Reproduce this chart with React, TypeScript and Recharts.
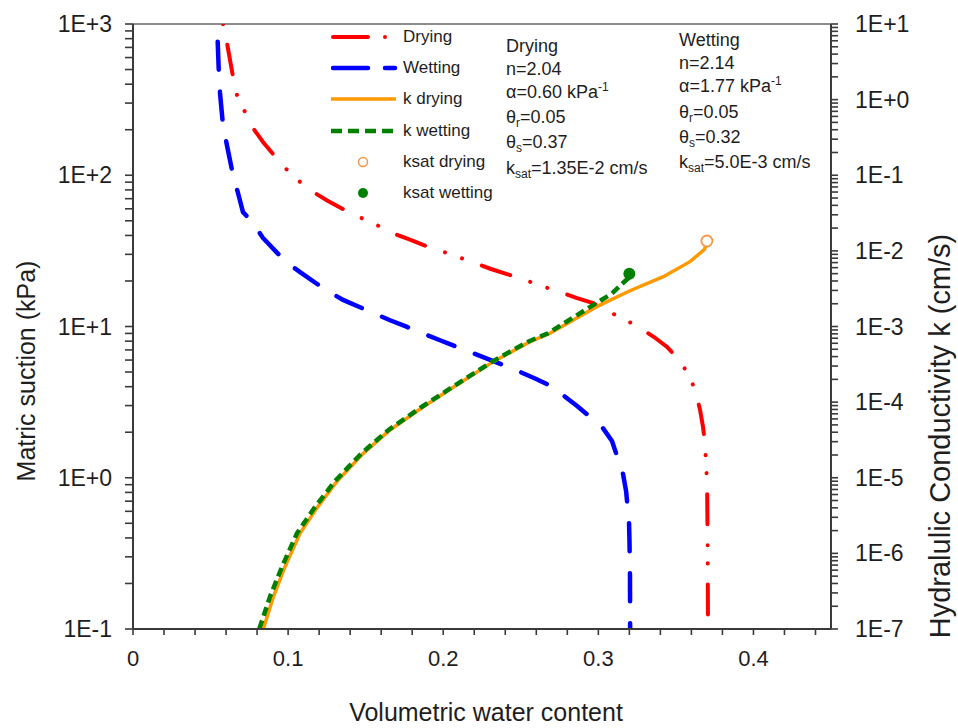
import { ComposedChart, Line, Scatter, XAxis, YAxis, ReferenceLine } from 'recharts';

// water retention curves: volumetric water content vs matric suction (kPa)
const dryTheta = [0.058, 0.0606, 0.0645, 0.0668, 0.0722, 0.0774, 0.0838, 0.0903, 0.098, 0.107, 0.1161, 0.1257, 0.1354, 0.1457, 0.156, 0.167, 0.1773, 0.187, 0.1986, 0.2095, 0.2205, 0.2308, 0.2411, 0.2527, 0.2637, 0.2753, 0.2863, 0.2966, 0.3056, 0.3166, 0.3269, 0.3359, 0.3443, 0.3527, 0.3591, 0.363, 0.3656, 0.3675, 0.3688, 0.3694, 0.3701, 0.3703, 0.3705, 0.3707];
const dryPsi = [1000, 749, 446, 344, 262, 205, 166, 138, 112, 91.6, 77.5, 67.6, 59.8, 53.0, 47.6, 41.5, 37.9, 34.6, 31.6, 28.8, 26.3, 24.0, 22.2, 20.3, 18.5, 16.9, 15.4, 14.3, 12.7, 11.2, 9.77, 8.52, 7.32, 5.91, 4.63, 3.63, 2.8, 2.16, 1.67, 1.25, 0.937, 0.567, 0.323, 0.1];

const wetTheta = [0.0546, 0.0554, 0.0561, 0.058, 0.0604, 0.0645, 0.0677, 0.0709, 0.0774, 0.0838, 0.0986, 0.1077, 0.1244, 0.1354, 0.1547, 0.1657, 0.1767, 0.1967, 0.2173, 0.2282, 0.2482, 0.2592, 0.2721, 0.2772, 0.2863, 0.3024, 0.3088, 0.3159, 0.3179, 0.3198, 0.3201, 0.3204, 0.3205];
const wetPsi = [764, 460, 350, 215, 161, 100, 76.3, 57.1, 48.3, 38.5, 26.7, 22.9, 17.4, 15.0, 12.3, 11.0, 9.93, 8.2, 6.78, 6.14, 5.08, 4.53, 3.92, 3.52, 2.98, 2.17, 1.75, 1.06, 0.817, 0.502, 0.376, 0.228, 0.1];

// hydraulic conductivity (cm/s)
const kDryTheta = [0.084, 0.0905, 0.098, 0.1077, 0.1184, 0.1313, 0.1485, 0.1657, 0.1872, 0.2087, 0.2323, 0.256, 0.2689, 0.299, 0.3204, 0.3419, 0.3591, 0.3685, 0.37];
const kDry = [1.0e-7, 2.67e-7, 6.67e-7, 1.84e-6, 3.94e-6, 8.87e-6, 2.1e-5, 4.28e-5, 8.69e-5, 1.68e-4, 3.43e-4, 6.3e-4, 8.13e-4, 1.83e-3, 2.97e-3, 4.56e-3, 7.2e-3, 1.05e-2, 1.32e-2];

const kWetTheta = [0.0814, 0.0883, 0.0961, 0.1057, 0.1167, 0.1299, 0.1473, 0.1647, 0.1863, 0.2079, 0.2315, 0.2547, 0.2676, 0.2966, 0.3088, 0.3161, 0.3193, 0.32];
const kWet = [1.0e-7, 2.67e-7, 6.67e-7, 1.84e-6, 3.94e-6, 8.87e-6, 2.1e-5, 4.28e-5, 8.69e-5, 1.68e-4, 3.43e-4, 6.3e-4, 8.13e-4, 1.92e-3, 2.73e-3, 3.79e-3, 4.34e-3, 5.0e-3];

const ksatDry = [{ x: 0.37, y: 0.0135 }];
const ksatWet = [{ x: 0.32, y: 0.005 }];

// axes
const xMajor = [0, 0.1, 0.2, 0.3, 0.4];
const xLabels = ['0', '0.1', '0.2', '0.3', '0.4'];
const xMinor = [0.02, 0.04, 0.06, 0.08, 0.12, 0.14, 0.16, 0.18, 0.22, 0.24, 0.26, 0.28, 0.32, 0.34, 0.36, 0.38, 0.42, 0.44];
const leftMajor = [0.1, 1, 10, 100, 1000];
const leftLabels = ['1E-1', '1E+0', '1E+1', '1E+2', '1E+3'];
const rightMajor = [1e-7, 1e-6, 1e-5, 1e-4, 1e-3, 1e-2, 1e-1, 1, 10];
const rightLabels = ['1E-7', '1E-6', '1E-5', '1E-4', '1E-3', '1E-2', '1E-1', '1E+0', '1E+1'];
const mult = [2, 3, 4, 5, 6, 7, 8, 9];

const FONT = '"Liberation Sans", Arial, sans-serif';
const AXIS = '#3a3a3a';
const TXT = '#1e1e1e';
const RED = '#FF0000';
const BLUE = '#0000FF';
const ORANGE = '#FF9900';
const GREEN = '#008000';

const pts = (xs: number[], ys: number[]) => xs.map((x, i) => ({ x, y: ys[i] }));
const minors = (majors: number[]) =>
  majors.slice(0, -1).flatMap((m) => mult.map((k) => +(m * k).toPrecision(3)));

// recharts draws the tick lines; these only place labels on the major ticks
const XTick = (p: any) => {
  const { x, y, payload } = p;
  const i = xMajor.indexOf(payload.value);
  if (i < 0) return <g />;
  return <text x={x} y={y + 31} textAnchor="middle" fontSize={22} fontFamily={FONT} fill={TXT}>{xLabels[i]}</text>;
};

const LeftTick = (p: any) => {
  const { x, y, payload } = p;
  const i = leftMajor.indexOf(payload.value);
  if (i < 0) return <g />;
  return <text x={x - 13} y={y + 8} textAnchor="end" fontSize={23} fontFamily={FONT} fill={TXT}>{leftLabels[i]}</text>;
};

const RightTick = (p: any) => {
  const { x, y, payload } = p;
  const i = rightMajor.indexOf(payload.value);
  if (i < 0) return <g />;
  return <text x={x + 17} y={y + 8} textAnchor="start" fontSize={23} fontFamily={FONT} fill={TXT}>{rightLabels[i]}</text>;
};

const legendRows = [
  { name: 'Drying', kind: 'dry' },
  { name: 'Wetting', kind: 'wet' },
  { name: 'k drying', kind: 'kdry' },
  { name: 'k wetting', kind: 'kwet' },
  { name: 'ksat drying', kind: 'open' },
  { name: 'ksat wetting', kind: 'dot' },
];

function Swatch({ kind }: { kind: string }) {
  return (
    <svg width={70} height={14} style={{ display: 'block' }}>
      {kind === 'dry' && (<>
        <line x1={2} x2={37} y1={7} y2={7} stroke={RED} strokeWidth={4} strokeLinecap="round" />
        <circle cx={54} cy={7} r={2} fill={RED} />
      </>)}
      {kind === 'wet' && (<>
        <line x1={2} x2={37} y1={7} y2={7} stroke={BLUE} strokeWidth={4.5} strokeLinecap="round" />
        <line x1={54} x2={64} y1={7} y2={7} stroke={BLUE} strokeWidth={4.5} strokeLinecap="round" />
      </>)}
      {kind === 'kdry' && <line x1={0} x2={65} y1={7} y2={7} stroke={ORANGE} strokeWidth={3.5} />}
      {kind === 'kwet' && <line x1={0} x2={65} y1={7} y2={7} stroke={GREEN} strokeWidth={4.5} strokeDasharray="11 6" />}
      {kind === 'open' && <circle cx={32} cy={7} r={4.5} fill="#fff" stroke="#F79646" strokeWidth={1.5} />}
      {kind === 'dot' && <circle cx={32} cy={7} r={5} fill={GREEN} />}
    </svg>
  );
}

const sub = { fontSize: 12, position: 'relative' as const, top: 4 };
const sup = { fontSize: 12, position: 'relative' as const, top: -7 };

export default function App() {
  const xTicks = [...xMajor, ...xMinor].sort((a, b) => a - b);
  const leftTicks = [...leftMajor, ...minors(leftMajor)];
  const rightTicks = [...rightMajor, ...minors(rightMajor)];
  const tickStyle = { stroke: AXIS, strokeWidth: 1.6 };

  return (
    <div style={{ position: 'absolute', left: 0, top: 0, width: 958, height: 728, background: '#fff', fontFamily: FONT, color: TXT }}>
      <ComposedChart width={958} height={728} margin={{ top: 24, right: 0, bottom: 0, left: 0 }}>
        <XAxis type="number" dataKey="x" domain={[0, 0.45]} allowDataOverflow ticks={xTicks} interval={0}
          height={99} tickSize={6} tickMargin={0} tickLine={tickStyle} tick={<XTick />}
          axisLine={{ stroke: AXIS, strokeWidth: 2 }} />
        <YAxis yAxisId="left" type="number" scale="log" domain={[0.1, 1000]} allowDataOverflow ticks={leftTicks}
          interval={0} width={133} tickSize={8} tickMargin={0} tickLine={tickStyle} tick={<LeftTick />}
          axisLine={{ stroke: AXIS, strokeWidth: 2 }} />
        <YAxis yAxisId="right" orientation="right" type="number" scale="log" domain={[1e-7, 10]} allowDataOverflow
          ticks={rightTicks} interval={0} width={127} tickSize={7} tickMargin={0} tickLine={tickStyle} tick={<RightTick />}
          axisLine={{ stroke: AXIS, strokeWidth: 2 }} />
        <ReferenceLine yAxisId="left" y={1000} stroke="#8C8C8C" strokeWidth={2} />

        <Line yAxisId="left" data={pts(dryTheta, dryPsi)} dataKey="y" type="linear" stroke={RED} strokeWidth={4}
          strokeLinecap="round" strokeDasharray="0.1 21 30 21 0.1 18" dot={false} activeDot={false} isAnimationActive={false} />
        <Line yAxisId="left" data={pts(wetTheta, wetPsi)} dataKey="y" type="linear" stroke={BLUE} strokeWidth={4.5}
          strokeLinecap="round" strokeDasharray="28 22" dot={false} activeDot={false} isAnimationActive={false} />
        <Line yAxisId="right" data={pts(kDryTheta, kDry)} dataKey="y" type="linear" stroke={ORANGE} strokeWidth={3.5}
          dot={false} activeDot={false} isAnimationActive={false} />
        <Line yAxisId="right" data={pts(kWetTheta, kWet)} dataKey="y" type="linear" stroke={GREEN} strokeWidth={4.5}
          strokeDasharray="9 5" dot={false} activeDot={false} isAnimationActive={false} />
        <Scatter yAxisId="right" data={ksatDry} dataKey="y" isAnimationActive={false}
          shape={(p: any) => <circle cx={p.cx} cy={p.cy} r={5.5} fill="#fff" stroke="#F79646" strokeWidth={1.8} />} />
        <Scatter yAxisId="right" data={ksatWet} dataKey="y" isAnimationActive={false}
          shape={(p: any) => <circle cx={p.cx} cy={p.cy} r={6} fill={GREEN} />} />
      </ComposedChart>

      {/* axis titles */}
      <div style={{ position: 'absolute', left: 26, top: 371, transform: 'translate(-50%,-50%) rotate(-90deg)', fontSize: 25, whiteSpace: 'nowrap' }}>
        Matric suction (kPa)
      </div>
      <div style={{ position: 'absolute', left: 940, top: 436, transform: 'translate(-50%,-50%) rotate(-90deg)', fontSize: 29, whiteSpace: 'nowrap' }}>
        Hydralulic Conductivity k (cm/s)
      </div>
      <div style={{ position: 'absolute', left: 486, top: 712, transform: 'translate(-50%,-50%)', fontSize: 25, whiteSpace: 'nowrap' }}>
        Volumetric water content
      </div>

      {/* legend */}
      <div style={{ position: 'absolute', left: 331, top: 21.4, fontSize: 17 }}>
        {legendRows.map((r) => (
          <div key={r.name} style={{ height: 31.2, display: 'flex', alignItems: 'center' }}>
            <Swatch kind={r.kind} />
            <span style={{ marginLeft: 2 }}>{r.name}</span>
          </div>
        ))}
      </div>

      {/* fitted parameters */}
      <div style={{ position: 'absolute', left: 506, top: 34.6, fontSize: 18, lineHeight: '23.2px', whiteSpace: 'nowrap' }}>
        <div>Drying</div>
        <div>n=2.04</div>
        <div>α=0.60 kPa<span style={sup}>-1</span></div>
        <div>θ<span style={sub}>r</span>=0.05</div>
        <div>θ<span style={sub}>s</span>=0.37</div>
        <div>k<span style={sub}>sat</span>=1.35E-2 cm/s</div>
      </div>
      <div style={{ position: 'absolute', left: 679, top: 28.9, fontSize: 18, lineHeight: '23.2px', whiteSpace: 'nowrap' }}>
        <div>Wetting</div>
        <div>n=2.14</div>
        <div>α=1.77 kPa<span style={sup}>-1</span></div>
        <div>θ<span style={sub}>r</span>=0.05</div>
        <div>θ<span style={sub}>s</span>=0.32</div>
        <div>k<span style={sub}>sat</span>=5.0E-3 cm/s</div>
      </div>
    </div>
  );
}
